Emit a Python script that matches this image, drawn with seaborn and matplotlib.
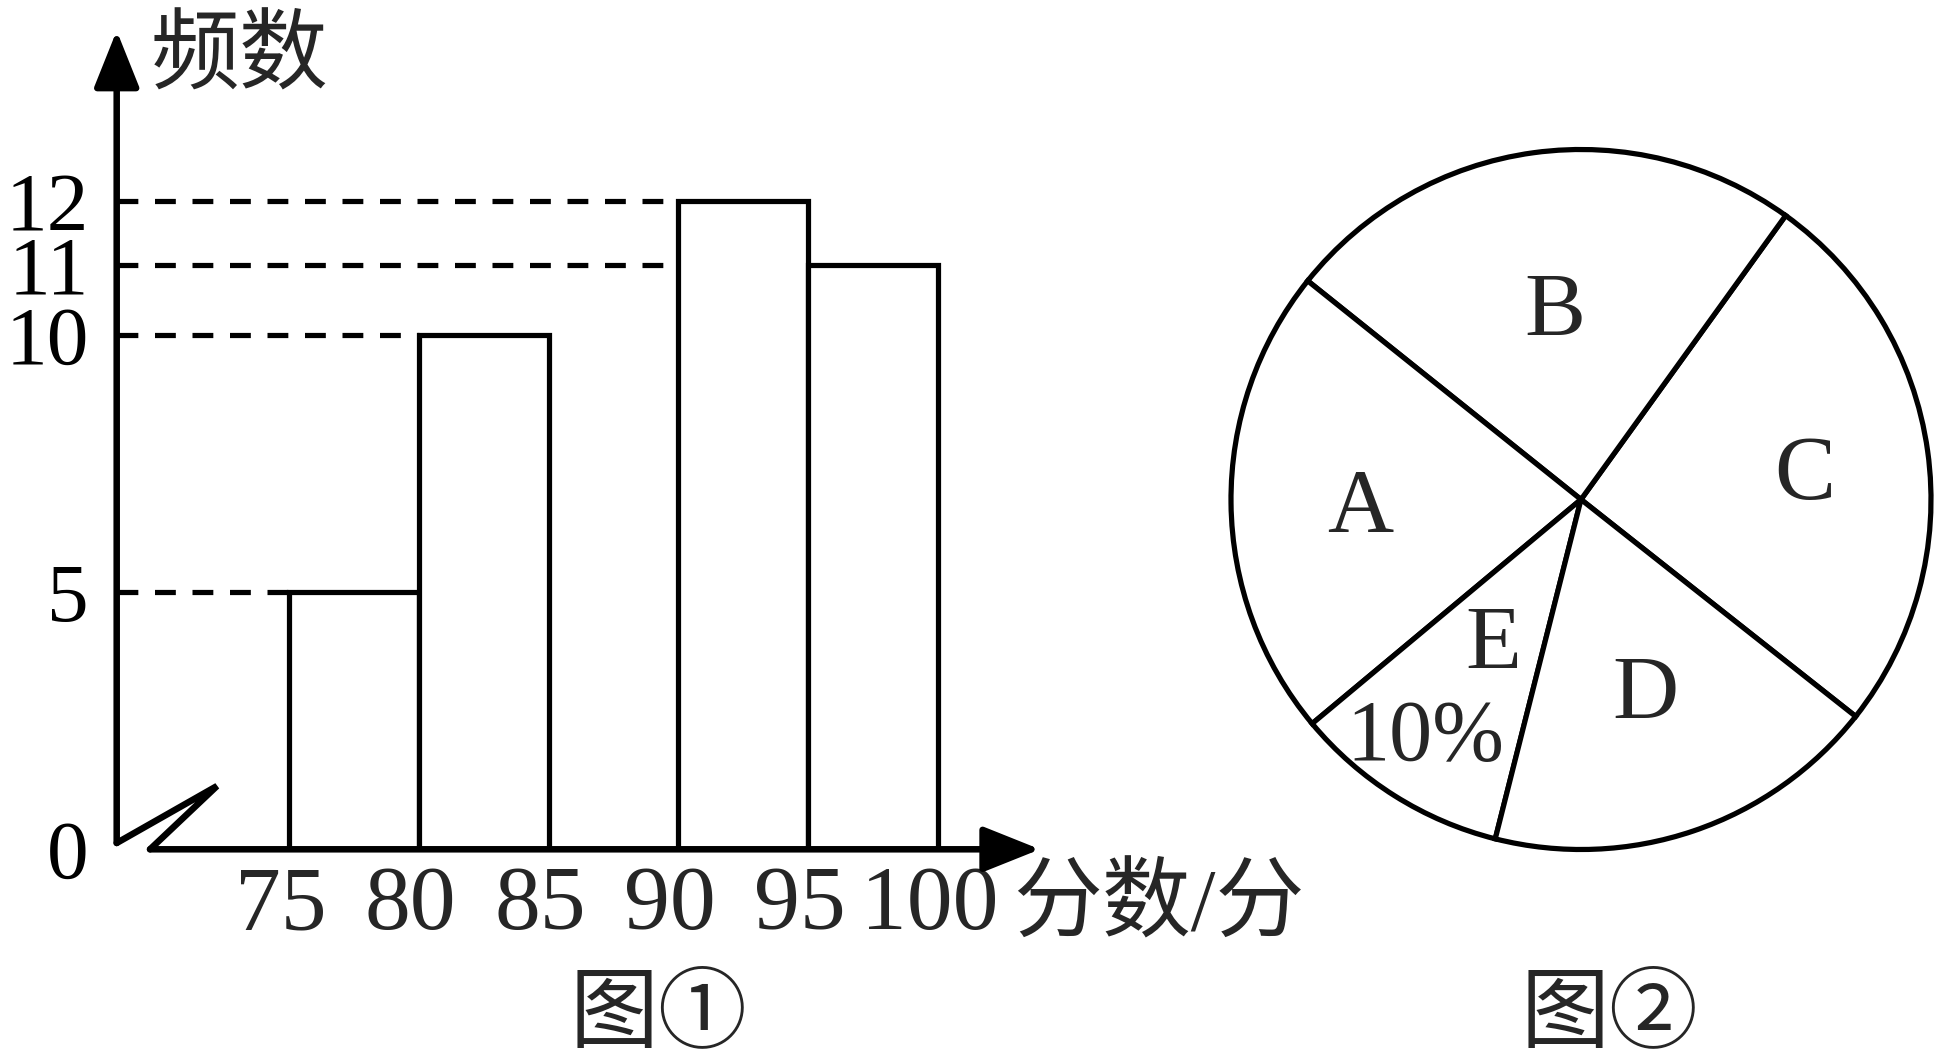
import numpy as np
import pandas as pd
import matplotlib
matplotlib.use("Agg")
import matplotlib.pyplot as plt
import seaborn as sns

# ---------------- data ----------------
bin_edges = [75, 80, 85, 90, 95, 100]
counts = [5, 10, 0, 12, 11]
ytick_values = [0, 5, 10, 11, 12]
xtick_labels = ["75", "80", "85", "90", "95", "100"]
pie_labels = ["C", "B", "A", "E", "D"]
pie_share = [25.7, 24.2, 21.8, 10.0, 18.3]
e_share_text = "10%"
y_title = "频数"
x_title = "分数/分"
fig1_title = "图①"
fig2_title = "图②"

# ---------------- style ----------------
sns.set_theme(style="white")
plt.rcParams["font.family"] = ["Liberation Serif", "Noto Sans CJK SC", "DejaVu Sans"]
plt.rcParams["lines.scale_dashes"] = False

W, H = 1943, 1062
fig = plt.figure(figsize=(W / 100, H / 100), dpi=100)
fig.patch.set_facecolor("white")

LW_AX = 4.7
LW = 3.75
FS = 66
FS_CJK = 64

# ---------------- histogram (图①) ----------------
ax = fig.add_axes([116.7 / W, (H - 849.3) / H, 923.3 / W, 818.6 / H])

# the drawing stretches the upper part of the frequency axis
knots_data = np.array([0.0, 10.0, 11.0, 12.0])
knots_disp = np.array([0.0, 10.0, 11.37, 12.6])
slope_hi = (knots_disp[-1] - knots_disp[-2]) / (knots_data[-1] - knots_data[-2])


def fwd(y):
    y = np.asarray(y, float)
    out = np.interp(y, knots_data, knots_disp)
    out = np.where(y > knots_data[-1], knots_disp[-1] + (y - knots_data[-1]) * slope_hi, out)
    return np.where(y < knots_data[0], y, out)


def inv(v):
    v = np.asarray(v, float)
    out = np.interp(v, knots_disp, knots_data)
    out = np.where(v > knots_disp[-1], knots_data[-1] + (v - knots_disp[-1]) / slope_hi, out)
    return np.where(v < knots_disp[0], v, out)


ax.set_yscale("function", functions=(fwd, inv))

mids = [(a + b) / 2 for a, b in zip(bin_edges[:-1], bin_edges[1:])]
df = pd.DataFrame({"score": mids, "freq": counts})
sns.histplot(data=df, x="score", weights="freq", bins=bin_edges, stat="count",
             color="white", edgecolor="black", linewidth=LW, alpha=1, ax=ax, zorder=3)

ax.set_xlim(68.36, 103.93)
ax.set_ylim(0, 14.7)

# dashed guide lines from the axis to each bar's top-left corner
x0 = ax.get_xlim()[0]
for left, c in zip(bin_edges[:-1], counts):
    if c > 0:
        ax.plot([x0, left], [c, c], color="black", lw=LW, ls=(0, (15, 12)),
                dash_capstyle="butt", zorder=2)

ax.set_yticks(ytick_values)
ax.set_yticklabels([str(v) for v in ytick_values])
ax.tick_params(axis="y", length=0, pad=20, labelsize=60, colors="black")
ax.set_xticks(bin_edges)
ax.set_xticklabels([])
ax.tick_params(axis="x", length=0)
for edge, lab in zip(bin_edges, xtick_labels):
    ax.annotate(lab, xy=(edge, 0), xycoords=("data", "axes fraction"),
                xytext=(-6, -12), textcoords="offset points",
                ha="center", va="top", fontsize=FS, annotation_clip=False)
ax.set_xlabel("")
ax.set_ylabel("")
for s in ax.spines.values():
    s.set_visible(False)
ax.grid(False)
ax.patch.set_alpha(0)

# axes with arrows and the break mark
arrow_style = "-|>,head_length=3.5,head_width=1.4"
ax.annotate("", xy=(0, 1), xytext=(0, 0.0077), xycoords="axes fraction",
            arrowprops=dict(arrowstyle=arrow_style, lw=LW_AX, color="black",
                            mutation_scale=10, shrinkA=0, shrinkB=0), annotation_clip=False)
ax.annotate("", xy=(1, 0), xytext=(0.0361, 0), xycoords="axes fraction",
            arrowprops=dict(arrowstyle=arrow_style, lw=LW_AX, color="black",
                            mutation_scale=10, shrinkA=0, shrinkB=0), annotation_clip=False)
ax.plot([0, 0.1086, 0.0361], [0.0077, 0.0773, 0], transform=ax.transAxes, color="black",
        lw=LW_AX, clip_on=False, solid_joinstyle="miter", solid_capstyle="round", zorder=4)

fig.text(151 / W, 1 - 60 / H, y_title, fontsize=FS_CJK, ha="left", va="center")
fig.text(1013 / W, 1 - 908 / H, x_title, fontsize=FS_CJK, ha="left", va="center")
fig.text(658 / W, 1 - 1018 / H, fig1_title, fontsize=FS_CJK, ha="center", va="center")

# ---------------- pie (图②) ----------------
ax2 = fig.add_axes([(1581 - 350) / W, (H - 499.5 - 350) / H, 700 / W, 700 / H])
wedges, _ = ax2.pie(pie_share, startangle=-38.3, counterclock=True, colors=["white"] * len(pie_share),
                    wedgeprops=dict(edgecolor="black", linewidth=LW), radius=1)
for w in wedges:
    w.set_clip_on(False)
ax2.set_xlim(-1, 1)
ax2.set_ylim(-1, 1)
ax2.axis("off")

label_r = {"C": 0.645, "B": 0.56, "A": 0.63, "E": 0.47, "D": 0.57}
for w, lab in zip(wedges, pie_labels):
    mid = np.deg2rad((w.theta1 + w.theta2) / 2)
    r = label_r[lab]
    ax2.annotate(lab, xy=(r * np.cos(mid), r * np.sin(mid)), xytext=(0, -6),
                 textcoords="offset points", fontsize=FS, ha="center", va="center")
    if lab == "E":
        r2 = 0.79
        ax2.annotate(e_share_text, xy=(r2 * np.cos(mid), r2 * np.sin(mid)), xytext=(-6, -4),
                     textcoords="offset points", fontsize=62, ha="center", va="center")

fig.text(1609 / W, 1 - 1018 / H, fig2_title, fontsize=FS_CJK, ha="center", va="center")

fig.savefig("out.png", dpi=100, facecolor="white")
